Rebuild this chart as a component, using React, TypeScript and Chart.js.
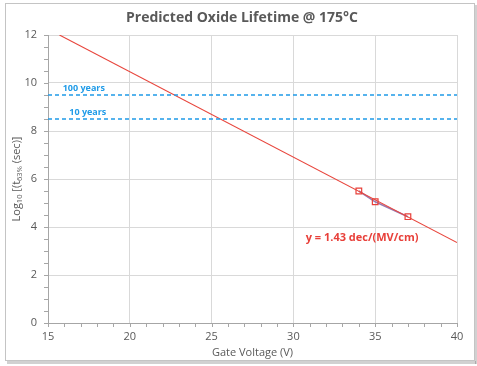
import React, { useEffect, useRef } from "react";
import { Chart, registerables } from "chart.js";

Chart.register(...registerables);

const fitX = [15.7, 40];
const fitY = [12.0, 3.35];
const measX = [34, 35, 37];
const measY = [5.5, 5.05, 4.43];
const refLines = [
  { label: "100 years", value: 9.5, labelX: 15.9 },
  { label: "10 years", value: 8.5, labelX: 16.3 },
];
const slopeText = "y = 1.43 dec/(MV/cm)";
const slopePos = { x: 34.2, y: 3.54 };
const titleText = "Predicted Oxide Lifetime @ 175°C";
const xTitle = "Gate Voltage (V)";

const FONT = "'Open Sans', 'Noto Sans', sans-serif";

const decor = {
  id: "decor",
  beforeDraw(chart: any) {
    const ctx = chart.ctx;
    ctx.save();
    ctx.fillStyle = "#ffffff";
    ctx.fillRect(0, 0, chart.width, chart.height);
    ctx.fillStyle = "rgba(0,0,0,0.18)";
    ctx.fillRect(7, 361, 469, 3);
    ctx.fillRect(475, 5, 2, 359);
    ctx.strokeStyle = "#c4c4c4";
    ctx.lineWidth = 1;
    ctx.strokeRect(5.5, 3.5, 469, 357);
    ctx.restore();
  },
  afterDatasetsDraw(chart: any) {
    const ctx = chart.ctx;
    const xs = chart.scales.x;
    const ys = chart.scales.y;
    const ca = chart.chartArea;
    ctx.save();
    ctx.strokeStyle = "#a6a6a6";
    ctx.lineWidth = 1;
    ctx.beginPath();
    ctx.moveTo(Math.round(ca.left) + 0.5, ca.top);
    ctx.lineTo(Math.round(ca.left) + 0.5, Math.round(ca.bottom) + 0.5);
    ctx.lineTo(ca.right, Math.round(ca.bottom) + 0.5);
    ctx.stroke();
    ctx.beginPath();
    for (let v = 0; v <= 12.001; v += 0.5) {
      const py = Math.round(ys.getPixelForValue(v)) + 0.5;
      ctx.moveTo(ca.left - 4, py);
      ctx.lineTo(ca.left, py);
    }
    for (let v = 15; v <= 40.001; v += 1) {
      const px = Math.round(xs.getPixelForValue(v)) + 0.5;
      ctx.moveTo(px, ca.bottom);
      ctx.lineTo(px, ca.bottom + 4);
    }
    ctx.stroke();

    ctx.fillStyle = "#595959";
    ctx.font = `bold 14px ${FONT}`;
    ctx.textAlign = "center";
    ctx.textBaseline = "middle";
    ctx.fillText(titleText, 242, 18);

    ctx.font = `11px ${FONT}`;
    ctx.fillText(xTitle, (ca.left + ca.right) / 2, 353);

    ctx.save();
    ctx.translate(16, (ca.top + ca.bottom) / 2);
    ctx.rotate(-Math.PI / 2);
    const parts: [string, boolean][] = [
      ["Log", false],
      ["10", true],
      [" [(t", false],
      ["63%", true],
      [" (sec)]", false],
    ];
    const big = `11px ${FONT}`;
    const small = `7.5px ${FONT}`;
    let total = 0;
    for (const [t, sub] of parts) {
      ctx.font = sub ? small : big;
      total += ctx.measureText(t).width;
    }
    let cx = -total / 2;
    ctx.textAlign = "left";
    ctx.textBaseline = "alphabetic";
    for (const [t, sub] of parts) {
      ctx.font = sub ? small : big;
      ctx.fillText(t, cx, sub ? 6 : 4);
      cx += ctx.measureText(t).width;
    }
    ctx.restore();

    ctx.strokeStyle = "#1f9be8";
    ctx.lineWidth = 1.3;
    ctx.setLineDash([4, 3]);
    for (const r of refLines) {
      const py = ys.getPixelForValue(r.value);
      ctx.beginPath();
      ctx.moveTo(ca.left, py);
      ctx.lineTo(ca.right, py);
      ctx.stroke();
    }
    ctx.setLineDash([]);
    ctx.fillStyle = "#1f9be8";
    ctx.font = `bold 9px ${FONT}`;
    ctx.textAlign = "left";
    ctx.textBaseline = "bottom";
    for (const r of refLines) {
      ctx.fillText(r.label, xs.getPixelForValue(r.labelX), ys.getPixelForValue(r.value) - 2);
    }

    ctx.fillStyle = "#e8403a";
    ctx.font = `bold 11px ${FONT}`;
    ctx.textAlign = "center";
    ctx.textBaseline = "middle";
    ctx.fillText(slopeText, xs.getPixelForValue(slopePos.x), ys.getPixelForValue(slopePos.y));
    ctx.restore();
  },
};

export default function App() {
  const ref = useRef<HTMLCanvasElement>(null);
  useEffect(() => {
    document.body.style.margin = "0";
    const chart = new Chart(ref.current!, {
      type: "scatter",
      data: {
        datasets: [
          {
            data: measX.map((x, i) => ({ x, y: measY[i] })),
            showLine: true,
            order: 2,
            borderColor: "#9a7ab0",
            borderWidth: 1.6,
            pointStyle: "rect",
            pointRadius: 4,
            pointBorderColor: "#e8403a",
            pointBackgroundColor: "rgba(0,0,0,0)",
            pointBorderWidth: 1.2,
          },
          {
            data: fitX.map((x, i) => ({ x, y: fitY[i] })),
            showLine: true,
            order: 1,
            borderColor: "#e8453c",
            borderWidth: 1.1,
            pointRadius: 0,
          },
        ],
      },
      options: {
        animation: false,
        responsive: false,
        events: [],
        layout: { padding: { left: 0, right: 20, top: 35, bottom: 0 } },
        plugins: { legend: { display: false }, tooltip: { enabled: false } },
        scales: {
          x: {
            type: "linear",
            min: 15,
            max: 40,
            ticks: { stepSize: 5, color: "#595959", font: { family: FONT, size: 11 }, padding: 7 },
            grid: { color: "#d9d9d9", drawTicks: false },
            border: { display: false },
            afterFit: (s: any) => {
              s.height = 43;
            },
          },
          y: {
            type: "linear",
            min: 0,
            max: 12,
            ticks: { stepSize: 2, color: "#595959", font: { family: FONT, size: 11 }, padding: 11 },
            grid: { color: "#d9d9d9", drawTicks: false },
            border: { display: false },
            afterFit: (s: any) => {
              s.width = 48;
            },
          },
        },
      },
      plugins: [decor],
    });
    return () => chart.destroy();
  }, []);
  return <canvas ref={ref} width={477} height={366} style={{ display: "block" }} />;
}
